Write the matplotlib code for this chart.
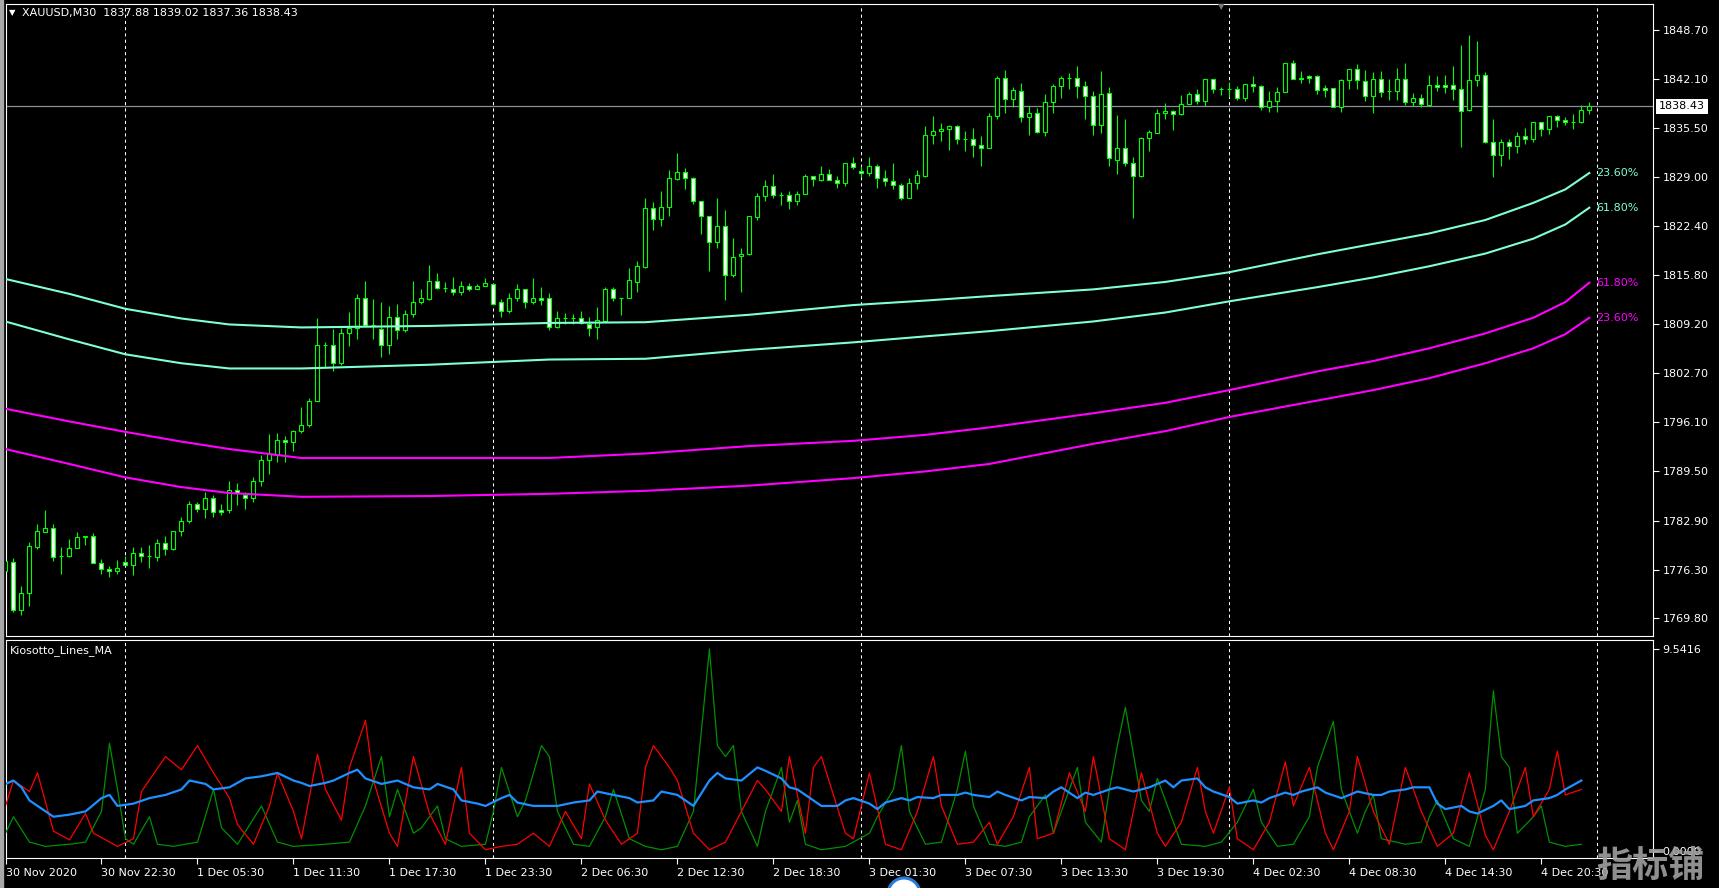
import matplotlib.pyplot as plt
from matplotlib.patches import Rectangle, Ellipse

# XAUUSD M30 bars (oldest -> newest)
opens = [
    1776.1, 1777.3, 1770.9, 1773.2, 1779.4, 1781.4, 1781.9, 1778.1, 1778.1, 1779.3,
    1780.7, 1780.9, 1777.2, 1776.4, 1776.1, 1777.4, 1777.0, 1778.6, 1778.1, 1778.0,
    1779.9, 1779.1, 1781.5, 1782.8, 1785.2, 1784.4, 1786.0, 1784.3, 1784.3, 1787.0,
    1786.3, 1786.0, 1788.2, 1791.0, 1791.7, 1793.7, 1793.4, 1794.9, 1795.7, 1799.0,
    1806.4, 1806.5, 1804.0, 1808.1, 1808.7, 1812.7, 1809.1, 1808.6, 1806.4, 1810.2,
    1808.5, 1810.6, 1812.2, 1812.6, 1815.0, 1814.1, 1814.0, 1813.5, 1814.3, 1813.9,
    1814.3, 1814.6, 1812.2, 1811.0, 1812.7, 1813.9, 1812.2, 1812.8, 1812.7, 1808.8,
    1810.0, 1810.0, 1810.0, 1809.3, 1808.8, 1809.7, 1814.0, 1812.8, 1812.8, 1814.9,
    1816.9, 1824.8, 1823.3, 1824.9, 1828.7, 1829.7, 1828.8, 1825.7, 1823.8, 1820.2,
    1822.4, 1815.8, 1818.4, 1818.7, 1823.6, 1826.4, 1827.7, 1826.6, 1826.5, 1825.8,
    1826.7, 1829.1, 1828.6, 1829.3, 1828.5, 1828.1, 1830.9, 1829.8, 1829.5, 1830.5,
    1828.8, 1828.4, 1827.9, 1826.2, 1828.1, 1829.1, 1834.6, 1835.1, 1835.4, 1835.8,
    1834.1, 1834.1, 1833.2, 1832.9, 1837.2, 1842.2, 1839.4, 1840.5, 1837.0, 1837.6,
    1835.0, 1839.0, 1841.1, 1842.3, 1842.3, 1841.1, 1839.8, 1836.0, 1840.2, 1831.3,
    1832.8, 1830.9, 1829.1, 1834.2, 1834.9, 1837.5, 1837.8, 1837.4, 1838.8, 1840.1,
    1839.1, 1842.1, 1840.7, 1840.7, 1840.8, 1839.6, 1841.4, 1841.1, 1838.4, 1839.2,
    1840.4, 1844.2, 1842.3, 1842.5, 1842.5, 1840.9, 1840.9, 1838.3, 1841.9, 1843.4,
    1841.8, 1839.8, 1842.1, 1840.5, 1840.5, 1842.1, 1839.0, 1839.5, 1838.6, 1841.3,
    1841.3, 1841.3, 1840.7, 1837.9, 1841.9, 1842.7, 1833.7, 1831.9, 1833.7, 1833.1,
    1834.4, 1834.0, 1836.3, 1835.4, 1837.1, 1836.6, 1836.4, 1836.4, 1837.88,
]
highs = [
    1778.5, 1777.9, 1774.1, 1780.1, 1782.5, 1784.3, 1782.5, 1779.4, 1780.4, 1781.4,
    1780.9, 1781.2, 1777.7, 1776.8, 1777.6, 1778.1, 1779.4, 1779.4, 1779.6, 1780.4,
    1780.8, 1781.5, 1783.4, 1785.5, 1785.4, 1786.7, 1786.4, 1785.2, 1788.2, 1788.0,
    1786.7, 1788.8, 1791.7, 1794.5, 1794.6, 1794.3, 1795.1, 1798.1, 1799.3, 1810.1,
    1806.9, 1808.6, 1808.7, 1810.9, 1813.3, 1815.0, 1812.6, 1812.2, 1811.7, 1811.9,
    1811.2, 1815.0, 1814.0, 1817.2, 1816.1, 1814.9, 1815.6, 1815.0, 1814.8, 1814.6,
    1815.4, 1814.8, 1812.6, 1813.4, 1814.6, 1814.0, 1815.4, 1814.2, 1813.4, 1811.0,
    1810.7, 1810.6, 1811.0, 1810.2, 1811.5, 1814.2, 1814.2, 1812.8, 1816.8, 1817.7,
    1826.1, 1825.6, 1827.1, 1829.9, 1832.2, 1830.2, 1828.9, 1825.7, 1823.8, 1826.1,
    1824.5, 1820.8, 1819.4, 1823.8, 1826.8, 1828.6, 1829.4, 1827.0, 1827.1, 1827.1,
    1829.3, 1829.1, 1830.4, 1830.0, 1829.1, 1830.9, 1831.6, 1830.4, 1831.6, 1830.7,
    1829.9, 1830.8, 1828.1, 1828.8, 1829.9, 1835.8, 1837.1, 1836.2, 1835.9, 1835.9,
    1835.1, 1835.5, 1834.5, 1837.6, 1842.5, 1843.3, 1841.0, 1841.6, 1838.5, 1838.2,
    1840.1, 1841.4, 1842.5, 1842.9, 1843.8, 1841.8, 1840.5, 1843.2, 1841.0, 1837.3,
    1836.7, 1831.7, 1834.3, 1835.3, 1838.1, 1838.9, 1837.9, 1840.0, 1840.4, 1840.8,
    1842.1, 1842.1, 1841.0, 1841.7, 1841.2, 1841.4, 1842.5, 1841.3, 1840.5, 1841.0,
    1844.3, 1844.7, 1843.2, 1842.6, 1842.7, 1841.3, 1840.9, 1842.1, 1843.5, 1844.1,
    1843.3, 1843.0, 1843.2, 1842.1, 1843.6, 1844.3, 1840.2, 1840.1, 1842.7, 1842.5,
    1842.6, 1843.8, 1846.7, 1848.0, 1847.2, 1843.0, 1836.7, 1834.1, 1834.1, 1835.0,
    1835.5, 1836.4, 1836.3, 1837.1, 1837.3, 1837.0, 1837.4, 1838.6, 1839.02,
]
lows = [
    1770.0, 1770.7, 1770.3, 1771.4, 1779.1, 1781.4, 1777.5, 1775.7, 1778.0, 1779.3,
    1779.7, 1777.2, 1775.8, 1775.3, 1775.8, 1776.9, 1775.6, 1777.3, 1776.6, 1777.5,
    1778.3, 1779.0, 1780.9, 1782.6, 1784.1, 1783.3, 1783.4, 1783.7, 1783.9, 1785.0,
    1784.5, 1785.4, 1787.5, 1789.2, 1790.8, 1790.8, 1792.3, 1794.6, 1795.4, 1799.0,
    1803.3, 1802.9, 1803.8, 1806.3, 1807.2, 1809.1, 1807.3, 1804.8, 1805.2, 1807.3,
    1808.2, 1810.2, 1812.0, 1812.5, 1813.9, 1813.5, 1813.2, 1813.2, 1813.7, 1813.9,
    1814.3, 1812.0, 1810.2, 1810.8, 1812.4, 1811.4, 1812.0, 1811.8, 1808.5, 1808.7,
    1809.3, 1809.3, 1809.3, 1807.7, 1807.3, 1809.6, 1812.4, 1810.5, 1812.7, 1813.6,
    1816.8, 1821.8, 1822.4, 1823.7, 1828.5, 1827.3, 1825.3, 1821.3, 1816.3, 1819.4,
    1812.5, 1815.5, 1813.6, 1818.5, 1823.2, 1825.7, 1826.1, 1825.2, 1824.7, 1825.2,
    1826.7, 1827.8, 1828.4, 1828.5, 1827.5, 1827.8, 1830.0, 1829.0, 1829.1, 1827.5,
    1827.8, 1827.3, 1825.9, 1826.2, 1827.3, 1829.0, 1833.4, 1833.8, 1832.6, 1833.4,
    1832.5, 1831.6, 1830.5, 1832.8, 1836.8, 1837.5, 1838.4, 1836.3, 1834.6, 1834.9,
    1834.5, 1837.6, 1839.6, 1840.8, 1839.6, 1836.8, 1834.6, 1834.8, 1830.4, 1829.3,
    1830.4, 1823.5, 1828.9, 1832.4, 1834.8, 1836.8, 1835.2, 1837.3, 1838.8, 1838.8,
    1838.5, 1840.2, 1840.0, 1839.7, 1839.3, 1839.1, 1840.3, 1838.0, 1837.7, 1837.7,
    1840.4, 1842.1, 1841.6, 1841.5, 1840.1, 1839.7, 1838.3, 1837.7, 1840.8, 1840.8,
    1839.2, 1837.6, 1839.7, 1839.3, 1839.3, 1838.6, 1838.5, 1838.4, 1838.5, 1840.5,
    1840.2, 1839.3, 1833.0, 1837.8, 1841.2, 1833.5, 1829.0, 1830.4, 1831.4, 1832.2,
    1833.4, 1833.6, 1834.4, 1834.7, 1835.7, 1835.9, 1835.4, 1836.2, 1837.36,
]
closes = [
    1777.5, 1770.9, 1773.2, 1779.5, 1781.5, 1781.9, 1778.0, 1778.1, 1779.3, 1780.7,
    1780.9, 1777.2, 1776.4, 1776.1, 1776.6, 1777.0, 1778.6, 1778.1, 1778.1, 1779.9,
    1779.1, 1781.5, 1782.8, 1785.2, 1784.4, 1786.0, 1784.0, 1784.0, 1787.0, 1786.6,
    1786.0, 1788.2, 1791.0, 1791.8, 1793.7, 1793.4, 1794.9, 1795.7, 1799.0, 1806.4,
    1806.4, 1804.0, 1808.1, 1808.7, 1812.7, 1809.1, 1809.1, 1806.4, 1810.2, 1808.5,
    1810.6, 1812.2, 1812.8, 1815.0, 1814.1, 1814.1, 1813.5, 1814.3, 1813.9, 1814.3,
    1814.8, 1812.0, 1811.0, 1812.7, 1813.9, 1812.2, 1812.8, 1812.5, 1808.8, 1810.0,
    1810.0, 1810.0, 1809.4, 1808.7, 1809.8, 1814.0, 1812.7, 1812.8, 1815.1, 1817.0,
    1824.8, 1823.3, 1824.9, 1828.8, 1829.7, 1828.8, 1825.7, 1823.8, 1820.2, 1822.4,
    1815.8, 1818.3, 1818.7, 1823.8, 1826.4, 1827.7, 1826.6, 1826.6, 1825.8, 1826.7,
    1829.1, 1828.7, 1829.3, 1828.5, 1828.1, 1830.9, 1830.3, 1829.5, 1830.5, 1828.8,
    1828.4, 1827.9, 1826.2, 1828.1, 1829.2, 1834.6, 1835.1, 1835.4, 1835.8, 1834.0,
    1834.1, 1833.2, 1832.9, 1837.2, 1842.2, 1839.4, 1840.6, 1837.0, 1837.6, 1835.0,
    1839.0, 1841.1, 1842.3, 1842.3, 1841.1, 1839.8, 1836.0, 1840.1, 1831.5, 1832.8,
    1830.9, 1829.1, 1834.2, 1835.0, 1837.5, 1837.8, 1837.4, 1838.8, 1840.1, 1839.1,
    1842.1, 1840.7, 1840.7, 1840.7, 1839.6, 1841.4, 1841.1, 1838.4, 1839.2, 1840.4,
    1844.2, 1842.1, 1842.1, 1842.3, 1840.6, 1840.6, 1838.3, 1842.0, 1843.4, 1841.9,
    1839.8, 1842.1, 1840.4, 1840.5, 1842.1, 1839.0, 1839.5, 1838.7, 1841.3, 1841.0,
    1841.0, 1840.7, 1837.8, 1841.9, 1842.7, 1833.7, 1831.9, 1833.7, 1833.1, 1834.4,
    1834.0, 1836.3, 1835.4, 1837.1, 1836.6, 1836.3, 1836.4, 1837.9, 1838.43,
]

# fibo-weighted MA envelopes (bar index -> price)
ma_bars = [0, 8, 15, 22, 28, 37, 53, 68, 80, 93, 106, 115, 123, 136, 145, 153,
           164, 171, 178, 185, 191, 195, 198]
up_236 = [1815.3, 1813.3, 1811.3, 1810.0, 1809.2, 1808.8, 1809.0, 1809.4, 1809.5,
          1810.5, 1811.8, 1812.4, 1813.0, 1813.9, 1814.9, 1816.2, 1818.6, 1820.0,
          1821.4, 1823.2, 1825.5, 1827.3, 1829.5]
up_618 = [1809.6, 1807.2, 1805.2, 1804.0, 1803.3, 1803.3, 1803.8, 1804.5, 1804.6,
          1805.8, 1806.8, 1807.6, 1808.3, 1809.6, 1810.8, 1812.3, 1814.2, 1815.5,
          1817.0, 1818.7, 1820.7, 1822.6, 1824.85]
dn_618 = [1797.9, 1796.2, 1794.8, 1793.5, 1792.5, 1791.3, 1791.3, 1791.3, 1791.9,
          1792.9, 1793.6, 1794.4, 1795.4, 1797.3, 1798.7, 1800.4, 1802.9, 1804.3,
          1806.0, 1808.0, 1810.1, 1812.2, 1814.8]
dn_236 = [1792.5, 1790.5, 1788.7, 1787.4, 1786.6, 1786.1, 1786.2, 1786.5, 1786.9,
          1787.6, 1788.6, 1789.5, 1790.5, 1793.2, 1794.9, 1796.8, 1799.0, 1800.4,
          1802.0, 1804.0, 1806.0, 1807.9, 1810.1]

# Kiosotto_Lines_MA (bar, value) at the turning points of each line
kio_red = [
    (0, 2.13), (1, 3.33), (3, 2.81), (4, 3.69), (6, 0.94), (8, 0.53), (10, 1.77),
    (11, 0.84), (14, 0.22), (16, 0.58), (17, 2.81), (20, 4.46), (22, 3.84), (24, 4.98),
    (26, 3.69), (28, 2.50), (29, 1.25), (31, 0.32), (33, 2.13), (34, 3.69), (36, 1.87),
    (37, 0.58), (39, 4.57), (40, 2.91), (42, 1.46), (43, 3.95), (45, 6.17), (46, 3.33),
    (48, 0.84), (49, 0.22), (51, 4.46), (53, 1.77), (55, 0.32), (57, 3.95), (58, 0.84),
    (60, 0.06), (62, 0.22), (64, 0.32), (66, 0.84), (68, 0.22), (70, 1.87), (72, 0.58),
    (73, 3.17), (75, 1.46), (77, 0.32), (79, 0.84), (80, 3.95), (81, 4.98), (83, 3.95),
    (84, 3.33), (86, 0.84), (88, 0.06), (90, 0.42), (92, 1.87), (94, 3.33), (95, 2.91),
    (97, 1.87), (98, 4.46), (100, 0.84), (101, 3.95), (102, 4.46), (105, 0.84),
    (106, 0.58), (108, 3.69), (110, 0.32), (112, 0.06), (114, 1.87), (116, 4.46),
    (117, 2.13), (119, 0.32), (121, 0.42), (123, 1.36), (124, 0.32), (126, 1.62),
    (128, 3.95), (129, 0.58), (131, 0.84), (133, 3.69), (135, 1.87), (136, 4.46),
    (138, 0.58), (140, 0.06), (142, 3.69), (144, 0.84), (145, 0.22), (147, 1.36),
    (149, 3.95), (150, 1.87), (151, 0.84), (153, 3.01), (154, 0.58), (156, 0.06),
    (158, 1.36), (160, 4.21), (161, 2.13), (163, 3.95), (165, 0.84), (166, 0.06),
    (168, 1.87), (169, 4.46), (171, 1.87), (173, 0.32), (175, 3.95), (176, 2.91),
    (177, 1.87), (179, 0.22), (181, 0.84), (183, 3.69), (185, 0.74), (186, 0.06),
    (188, 1.87), (190, 3.95), (191, 1.62), (193, 2.91), (194, 4.72), (195, 2.65),
    (197, 2.91),
]
kio_green = [
    (0, 0.84), (1, 1.62), (3, 0.42), (5, 0.22), (8, 0.32), (10, 0.42), (12, 1.87),
    (13, 5.09), (14, 2.91), (15, 0.58), (16, 0.32), (18, 1.62), (19, 0.32), (21, 0.22),
    (24, 0.42), (26, 2.91), (27, 1.10), (29, 0.32), (32, 2.13), (34, 0.42), (36, 0.22),
    (40, 0.32), (43, 0.42), (45, 2.13), (47, 4.46), (48, 1.62), (49, 2.91), (51, 0.84),
    (52, 1.10), (54, 2.13), (55, 0.58), (57, 0.22), (60, 0.32), (61, 1.87), (62, 3.95),
    (64, 1.62), (65, 2.39), (67, 4.98), (68, 4.46), (69, 1.87), (71, 0.32), (73, 0.22),
    (75, 1.62), (76, 2.91), (78, 0.58), (80, 0.22), (82, 0.06), (84, 0.22), (86, 1.87),
    (88, 9.54), (89, 4.98), (90, 4.46), (91, 4.98), (92, 1.87), (94, 0.22), (95, 1.87),
    (97, 3.95), (98, 1.36), (99, 2.39), (100, 0.32), (102, 0.06), (105, 0.22),
    (108, 0.84), (109, 1.62), (111, 2.91), (112, 4.98), (113, 1.87), (115, 0.32),
    (117, 0.42), (119, 2.91), (120, 4.72), (121, 2.13), (123, 0.32), (125, 0.22),
    (127, 0.42), (128, 1.62), (130, 2.65), (131, 0.84), (132, 1.87), (134, 3.95),
    (135, 1.36), (137, 0.42), (138, 2.91), (139, 4.98), (140, 6.79), (142, 2.39),
    (143, 1.87), (144, 3.43), (146, 1.36), (147, 0.32), (150, 0.22), (152, 0.42),
    (154, 1.36), (156, 2.91), (157, 1.36), (159, 0.22), (161, 0.32), (163, 1.62),
    (164, 3.95), (166, 6.12), (167, 2.91), (169, 0.84), (170, 1.87), (171, 2.65),
    (172, 0.58), (175, 0.32), (177, 0.42), (178, 1.62), (179, 2.39), (181, 0.58),
    (183, 0.22), (185, 2.91), (186, 7.57), (187, 4.46), (188, 3.95), (189, 0.84),
    (191, 1.62), (192, 2.13), (193, 0.42), (195, 0.22), (197, 0.32),
]
kio_ma = [
    (0, 3.17), (1, 3.33), (2, 3.01), (3, 2.39), (6, 1.62), (8, 1.72), (10, 1.87),
    (12, 2.50), (13, 2.65), (14, 2.13), (16, 2.24), (18, 2.50), (20, 2.65), (22, 2.91),
    (23, 3.33), (25, 3.17), (26, 2.91), (28, 3.01), (30, 3.43), (32, 3.53), (34, 3.69),
    (36, 3.33), (37, 3.22), (38, 3.07), (40, 3.22), (41, 3.33), (43, 3.69), (44, 3.84),
    (45, 3.43), (47, 3.17), (49, 3.33), (51, 3.01), (53, 2.91), (54, 3.17), (56, 2.91),
    (57, 2.39), (59, 2.24), (60, 2.13), (62, 2.50), (63, 2.65), (64, 2.29), (66, 2.13),
    (69, 2.13), (71, 2.29), (73, 2.39), (74, 2.81), (76, 2.65), (78, 2.50), (79, 2.29),
    (81, 2.39), (82, 2.81), (84, 2.65), (85, 2.39), (86, 2.13), (88, 3.33), (89, 3.69),
    (90, 3.43), (92, 3.33), (94, 3.95), (95, 3.79), (97, 3.43), (98, 3.01), (99, 2.91),
    (101, 2.39), (102, 2.13), (104, 2.13), (105, 2.39), (106, 2.50), (108, 2.24),
    (109, 1.98), (110, 2.29), (112, 2.50), (113, 2.39), (114, 2.55), (116, 2.50),
    (117, 2.65), (119, 2.65), (120, 2.76), (121, 2.65), (123, 2.55), (124, 2.81),
    (125, 2.65), (127, 2.39), (128, 2.55), (130, 2.50), (131, 2.81), (132, 3.01),
    (134, 2.50), (135, 2.76), (136, 2.65), (138, 2.91), (139, 3.01), (141, 2.81),
    (142, 2.91), (143, 3.01), (145, 3.33), (146, 3.01), (147, 3.33), (149, 3.43),
    (150, 3.01), (151, 2.81), (153, 2.55), (154, 2.24), (156, 2.39), (157, 2.29),
    (158, 2.50), (160, 2.76), (161, 2.65), (162, 2.81), (164, 3.01), (165, 2.76),
    (167, 2.50), (168, 2.65), (169, 2.81), (171, 2.65), (172, 2.65), (173, 2.81),
    (175, 2.91), (176, 3.01), (178, 3.01), (179, 2.24), (180, 1.98), (182, 2.13),
    (183, 1.87), (184, 1.77), (186, 2.13), (187, 2.39), (188, 1.98), (190, 2.13),
    (191, 2.39), (193, 2.50), (194, 2.65), (195, 2.91), (197, 3.33),
]

price_ticks = [1848.70, 1842.10, 1835.50, 1829.00, 1822.40, 1815.80, 1809.20,
               1802.70, 1796.10, 1789.50, 1782.90, 1776.30, 1769.80]
last_price = 1838.43
day_starts = [15, 61, 107, 153, 199]
time_labels = ['30 Nov 2020', '30 Nov 22:30', '1 Dec 05:30', '1 Dec 11:30',
               '1 Dec 17:30', '1 Dec 23:30', '2 Dec 06:30', '2 Dec 12:30',
               '2 Dec 18:30', '3 Dec 01:30', '3 Dec 07:30', '3 Dec 13:30',
               '3 Dec 19:30', '4 Dec 02:30', '4 Dec 08:30', '4 Dec 14:30',
               '4 Dec 20:30']
kio_max = 9.5416

GREEN = '#00ff00'
AQUA = '#7fffd4'
MAGENTA = '#ff00ff'

W, H = 1719, 888
fig = plt.figure(figsize=(W / 100, H / 100), dpi=100, facecolor='black')
ax = fig.add_axes([5.5 / W, 1 - 636 / H, 1647.5 / W, 631.6 / H], facecolor='black')
ax2 = fig.add_axes([5.5 / W, 1 - 858 / H, 1647.5 / W, 218 / H], facecolor='black')

for a in (ax, ax2):
    for s in a.spines.values():
        s.set_color('white')
        s.set_linewidth(0.8)
    a.set_xlim(0.02, 205.96)
    for d in day_starts:
        a.axvline(d, color='white', lw=0.75, ls=(0, (3, 3)), zorder=1)

# candles
n = len(opens)
xs = list(range(n))
ax.vlines(xs, lows, highs, color=GREEN, lw=0.8, zorder=2)
bw = 0.5
for i in xs:
    o, c = opens[i], closes[i]
    face = 'white' if c < o else 'black'
    ax.add_patch(Rectangle((i - bw / 2, min(o, c)), bw, abs(c - o),
                           facecolor=face, edgecolor=GREEN, lw=0.8, zorder=3))

for vals, col, lab in [(up_236, AQUA, '23.60%'), (up_618, AQUA, '61.80%'),
                       (dn_618, MAGENTA, '61.80%'), (dn_236, MAGENTA, '23.60%')]:
    ax.plot(ma_bars, vals, color=col, lw=1.5, zorder=4)
    ax.text(ma_bars[-1] + 0.9, vals[-1], lab, color=col, fontsize=8,
            va='center', ha='left')

ax.axhline(last_price, color='#8a8f9a', lw=0.9, zorder=1)
ax.set_ylim(1767.44, 1852.10)
ax.set_xticks([])
ax.yaxis.tick_right()
ax.set_yticks(price_ticks)
ax.set_yticklabels([f'{v:.2f}' for v in price_ticks])
ax.tick_params(axis='y', colors='white', length=4, width=0.8, pad=3, labelsize=8)
ax.text(1.0035, last_price, f'{last_price:.2f}', transform=ax.get_yaxis_transform(),
        color='black', fontsize=8, va='center', ha='left',
        bbox=dict(boxstyle='square,pad=0.25', fc='white', ec='none'))

# indicator window
for pts, col, lw in [(kio_green, '#009000', 0.9), (kio_red, '#ff0000', 0.9),
                     (kio_ma, '#1e90ff', 1.6)]:
    bx, vy = zip(*pts)
    ax2.plot(bx, vy, color=col, lw=lw, zorder=3)

ax2.set_ylim(-0.33, 9.97)
ax2.yaxis.tick_right()
ax2.set_yticks([kio_max, 0])
ax2.set_yticklabels([f'{kio_max:.4f}', '0.0000'])
ax2.tick_params(axis='y', colors='white', length=4, width=0.8, pad=3, labelsize=8)
ax2.set_xticks(range(0, 12 * len(time_labels), 12))
ax2.set_xticklabels(time_labels, ha='left')
ax2.tick_params(axis='x', colors='white', length=4, width=0.8, pad=3, labelsize=8)
ax2.text(0.0025, 0.95, 'Kiosotto_Lines_MA', transform=ax2.transAxes,
         color='white', fontsize=8, va='center', ha='left')

# header
fig.text(9 / W, 1 - 13 / H, '\u25bc', color='white', fontsize=6, va='center')
fig.text(22 / W, 1 - 13 / H, 'XAUUSD,M30  1837.88 1839.02 1837.36 1838.43',
         color='white', fontsize=8, va='center')
fig.text(1221 / W, 1 - 7 / H, '\u25bc', color='#7a7a7a', fontsize=6,
         va='center', ha='center')
fig.add_artist(Rectangle((0, 0), 3 / W, 1, transform=fig.transFigure,
                         color='#a8a8a8', zorder=0))

# watermark bits
fig.add_artist(Ellipse((904 / W, 1 - 894 / H), 32 / W, 32 / H,
                       transform=fig.transFigure, facecolor='white',
                       edgecolor='#2a7bd6', lw=2.2, zorder=5))
fig.text(1650 / W, 1 - 866 / H, '指标铺', color='#a0a0a0', fontsize=26,
         fontweight='bold', family=['Noto Sans CJK SC', 'DejaVu Sans'],
         ha='center', va='center', alpha=0.9)

fig.savefig('out.png', dpi=100, facecolor='black')
